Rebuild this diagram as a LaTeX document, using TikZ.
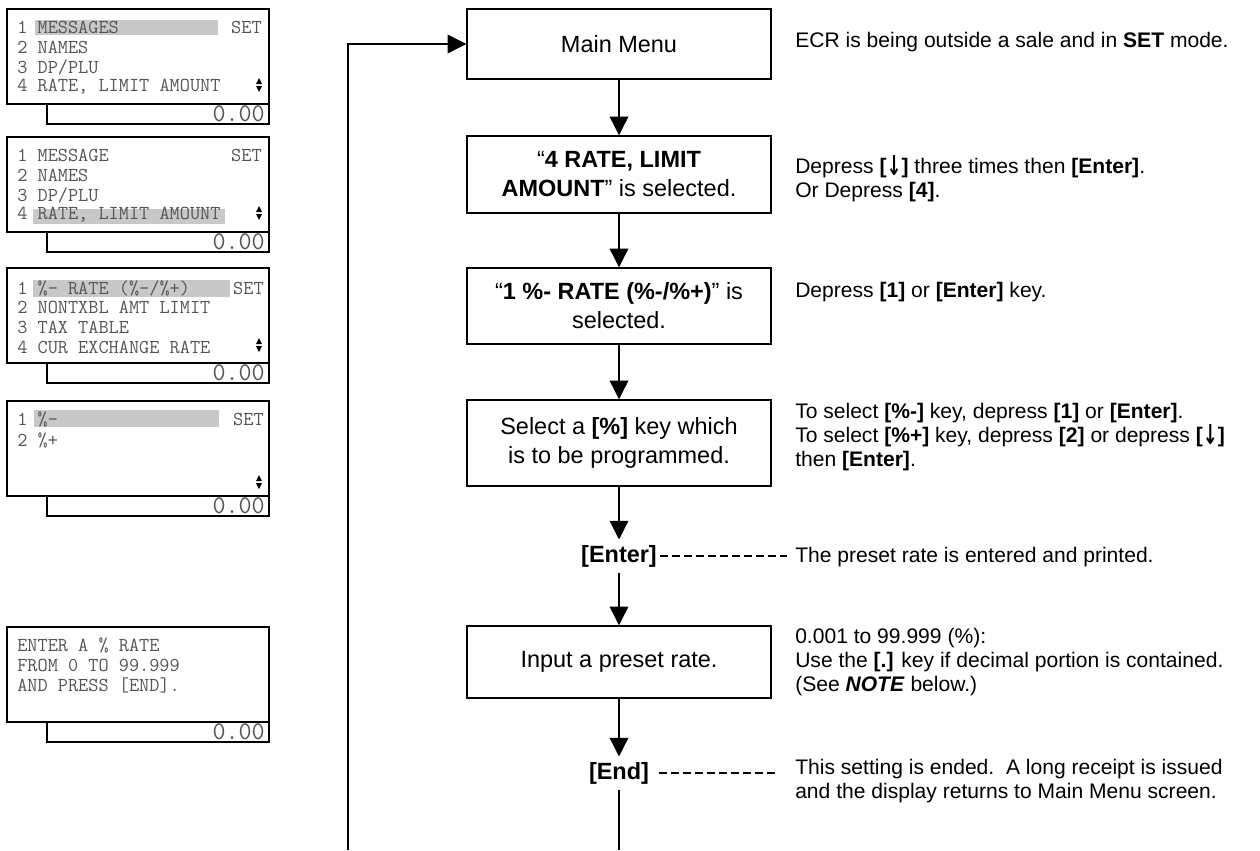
\documentclass[tikz,border=0pt]{standalone}
\usepackage{fontspec}
\setmainfont{Liberation Sans}
\newfontfamily\arrfont{DejaVu Sans}
\usetikzlibrary{arrows.meta}
\definecolor{lcdgray}{HTML}{555555}
\definecolor{hlgray}{HTML}{C8C8C8}
\newcommand{\dnkey}{\textbf{[\raisebox{-0.08em}{\scalebox{0.85}[1.3]{\arrfont ↓}}]}}
\newcommand{\lcdarrows}[2]{%
  \fill[black] ({#1-3},{#2-1}) -- ({#1+3},{#2-1}) -- (#1,{#2-7}) -- cycle;
  \fill[black] ({#1-3},{#2+1}) -- ({#1+3},{#2+1}) -- (#1,{#2+7}) -- cycle;}
\newcommand{\lcdframe}[1]{%
  \draw[lcdline] (7,0) rectangle (269,95);
  \draw[lcdline] (47,95) rectangle (269,115);
  \node[lcdbig] (#1z) at (265,105) {0.00};}
\tikzset{
 flowbox/.style={draw, line width=1.1pt, minimum width=228pt, inner sep=0pt, align=center, font=\fontsize{17.6pt}{21.75pt}\selectfont},
 keylbl/.style={font=\fontsize{17.6pt}{21pt}\selectfont\bfseries, inner xsep=2pt, inner ysep=4pt},
 note/.style={anchor=west, align=left, inner sep=0pt, font=\fontsize{15.8pt}{18pt}\selectfont},
 conn/.style={line width=1pt, -{Triangle[width=14pt,length=14pt]}},
 plainln/.style={line width=1pt},
 leader/.style={line width=0.8pt, dash pattern=on 6pt off 3pt},
 lcdline/.style={line width=1pt},
 lcdtxt/.style={anchor=west, inner sep=0pt, text=lcdgray, font=\fontsize{14.8pt}{16pt}\ttfamily},
 lcdset/.style={anchor=east, inner sep=0pt, text=lcdgray, font=\fontsize{14.8pt}{16pt}\ttfamily},
 lcdbig/.style={anchor=east, inner sep=0pt, text=lcdgray, font=\fontsize{19pt}{21pt}\ttfamily},
 hl/.style={fill=hlgray, draw=none}
}
\begin{document}
\begin{tikzpicture}[x=0.75pt, y=-0.75pt]
\useasboundingbox (0,0) rectangle (1260,850);

% ---------- LCD panels ----------
\begin{scope}[shift={(0,9)}]
  \fill[hl] (35,11) rectangle (218,26);
  \node[lcdtxt] (d1a) at (17,18) {1 MESSAGES};
  \node[lcdtxt] (d1b) at (17,38) {2 NAMES};
  \node[lcdtxt] (d1c) at (17,58) {3 DP/PLU};
  \node[lcdtxt] (d1d) at (17,78) {4 RATE, LIMIT AMOUNT};
  \node[lcdset] (d1s) at (262,18) {SET};
  \lcdarrows{259}{76}
  \lcdframe{d1}
\end{scope}

\begin{scope}[shift={(0,137)}]
  \fill[hl] (33,72) rectangle (225,87);
  \node[lcdtxt] (d2a) at (17,18) {1 MESSAGE};
  \node[lcdtxt] (d2b) at (17,38) {2 NAMES};
  \node[lcdtxt] (d2c) at (17,58) {3 DP/PLU};
  \node[lcdtxt] (d2d) at (17,78) {4 RATE, LIMIT AMOUNT};
  \node[lcdset] (d2s) at (262,18) {SET};
  \lcdarrows{259}{76}
  \lcdframe{d2}
\end{scope}

\begin{scope}[shift={(0,268)}]
  \fill[hl] (33,12) rectangle (230,29);
  \node[lcdtxt] (d3a) at (17,20) {1 \%- RATE (\%-/\%+)};
  \node[lcdtxt] (d3b) at (17,39) {2 NONTXBL AMT LIMIT};
  \node[lcdtxt] (d3c) at (17,59) {3 TAX TABLE};
  \node[lcdtxt] (d3d) at (17,79) {4 CUR EXCHANGE RATE};
  \node[lcdset] (d3s) at (264,20) {SET};
  \lcdarrows{259}{77}
  \lcdframe{d3}
\end{scope}

\begin{scope}[shift={(0,401)}]
  \fill[hl] (34,9) rectangle (219,26);
  \node[lcdtxt] (d4a) at (17,18) {1 \%-};
  \node[lcdtxt] (d4b) at (17,39) {2 \%+};
  \node[lcdset] (d4s) at (264,18) {SET};
  \lcdarrows{259}{81}
  \lcdframe{d4}
\end{scope}

\begin{scope}[shift={(0,627)}]
  \node[lcdtxt] (d5a) at (17,18) {ENTER A \% RATE};
  \node[lcdtxt] (d5b) at (17,38) {FROM 0 TO 99.999};
  \node[lcdtxt] (d5c) at (17,58) {AND PRESS [END].};
  \lcdframe{d5}
\end{scope}

% ---------- flow boxes ----------
\node[flowbox, minimum height=52.5pt] (main) at (619,44) {Main Menu};
\node[flowbox, minimum height=57.75pt] (b2) at (619,174.5) {“\textbf{4 RATE, LIMIT}\\\textbf{AMOUNT}” is selected.};
\node[flowbox, minimum height=57pt] (b3) at (619,306) {“\textbf{1 \%- RATE (\%-/\%+)}” is\\selected.};
\node[flowbox, minimum height=64.5pt] (b4) at (619,443) {Select a \textbf{[\%]} key which\\is to be programmed.};
\node[keylbl] (enter) at (619,556) {[Enter]};
\node[flowbox, minimum height=54pt] (input) at (619,662) {Input a preset rate.};
\node[keylbl] (endk) at (619,773) {[End]};

\coordinate (enterlead) at (787,556);
\coordinate (endlead) at (775,773);
\coordinate (endbot) at (619,850);
\coordinate (loopbot) at (348,850);

% ---------- connectors ----------
\draw[conn] (main) -- (b2);
\draw[conn] (b2) -- (b3);
\draw[conn] (b3) -- (b4);
\draw[conn] (b4.south) -- (enter.north);
\draw[conn] (enter.south) -- (input.north);
\draw[conn] (input.south) -- (endk.north);
\draw[plainln] (endk.south) -- (endbot);
\draw[conn] (loopbot) |- (main.west);
\draw[leader] (enter.east) -- (enterlead);
\draw[leader] ([xshift=5pt]endk.east) -- (endlead);

% ---------- notes ----------
\node[note] (n1) at (795,42) {ECR is being outside a sale and in \textbf{SET} mode.};
\node[note] (n2) at (795,179) {Depress \dnkey{} three times then \textbf{[Enter]}.\\Or Depress \textbf{[4]}.};
\node[note] (n3) at (795,292) {Depress \textbf{[1]} or \textbf{[Enter]} key.};
\node[note] (n4) at (795,437) {To select \textbf{[\%-]} key, depress \textbf{[1]} or \textbf{[Enter]}.\\To select \textbf{[\%+]} key, depress \textbf{[2]} or depress \dnkey\\then \textbf{[Enter]}.};
\node[note] (n5) at (795,557) {The preset rate is entered and printed.};
\node[note] (n6) at (795,662) {0.001 to 99.999 (\%):\\Use the \textbf{[.]} key if decimal portion is contained.\\(See \textbf{\textit{NOTE}} below.)};
\node[note] (n7) at (795,781) {This setting is ended.\ \ A long receipt is issued\\and the display returns to Main Menu screen.};
\end{tikzpicture}
\end{document}
